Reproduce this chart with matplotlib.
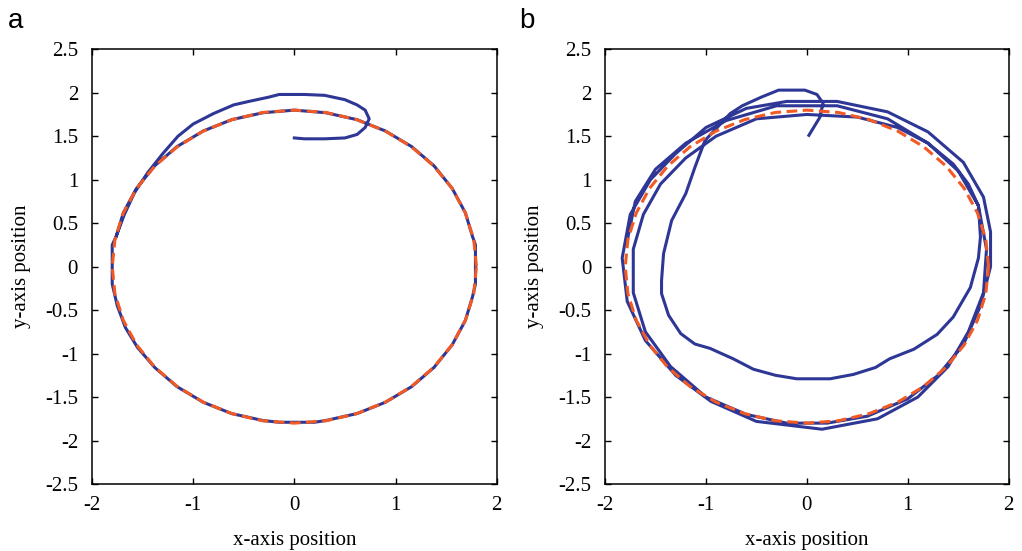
import matplotlib
matplotlib.use("Agg")
import matplotlib.pyplot as plt

# Reference circle (r ~ 1.8)
REF_X = [1.8, 1.773, 1.691, 1.559, 1.379, 1.157, 0.9, 0.616, 0.313, 0.0,
         -0.313, -0.616, -0.9, -1.157, -1.379, -1.559, -1.691, -1.773, -1.8,
         -1.773, -1.691, -1.559, -1.379, -1.157, -0.9, -0.616, -0.313, 0.0,
         0.313, 0.616, 0.9, 1.157, 1.379, 1.559, 1.691, 1.773, 1.8]
REF_Y = [0.0, 0.313, 0.616, 0.9, 1.157, 1.379, 1.559, 1.691, 1.773, 1.8,
         1.773, 1.691, 1.559, 1.379, 1.157, 0.9, 0.616, 0.313, 0.0,
         -0.313, -0.616, -0.9, -1.157, -1.379, -1.559, -1.691, -1.773, -1.8,
         -1.773, -1.691, -1.559, -1.379, -1.157, -0.9, -0.616, -0.313, 0.0]

# Panel a trajectory
A_X = [0.0, 0.1, 0.3, 0.5, 0.62, 0.7, 0.74, 0.7, 0.62, 0.5, 0.3, 0.1, -0.15,
       -0.25, -0.45, -0.6, -0.8, -1.0, -1.15, -1.3, -1.45, -1.58, -1.68, -1.76,
       -1.8, -1.8, -1.8, -1.75, -1.67, -1.55, -1.38, -1.16, -0.9, -0.62, -0.31,
       -0.15, 0.2, 0.31, 0.62, 0.9, 1.16, 1.38, 1.56, 1.69, 1.76, 1.79, 1.79,
       1.76, 1.69, 1.56, 1.38, 1.16, 0.9, 0.62, 0.31, 0.0, -0.31, -0.62, -0.9,
       -1.16, -1.38, -1.56, -1.69, -1.76]
A_Y = [1.48, 1.47, 1.47, 1.48, 1.52, 1.6, 1.7, 1.8, 1.86, 1.92, 1.97, 1.98, 1.98,
       1.95, 1.9, 1.86, 1.76, 1.64, 1.5, 1.3, 1.08, 0.85, 0.6, 0.35,
       0.25, 0.0, -0.2, -0.45, -0.7, -0.93, -1.16, -1.38, -1.56, -1.69, -1.77,
       -1.79, -1.79, -1.77, -1.69, -1.56, -1.38, -1.16, -0.9, -0.62, -0.35, -0.2, 0.25,
       0.35, 0.62, 0.9, 1.16, 1.38, 1.56, 1.69, 1.77, 1.8, 1.77, 1.69, 1.56,
       1.38, 1.16, 0.9, 0.62, 0.35]

# Panel b trajectory
B_X = [0.02, 0.13, 0.16, 0.1, -0.02, -0.28, -0.45, -0.64, -0.76, -1.01, -1.11,
       -1.2, -1.34, -1.42, -1.44, -1.44, -1.37, -1.25, -1.11, -0.96, -0.73,
       -0.53, -0.31, -0.1, 0.23, 0.46, 0.68, 0.82, 1.06, 1.29, 1.45, 1.62,
       1.7, 1.72, 1.7, 1.6, 1.45, 1.2, 0.9, 0.5, 0.0, -0.5, -0.9, -1.2, -1.45,
       -1.62, -1.72, -1.72, -1.6, -1.35, -1.0, -0.6, -0.2, 0.2, 0.6, 1.0, 1.3,
       1.55, 1.72, 1.82, 1.82, 1.75, 1.55, 1.2, 0.8, 0.3, -0.2, -0.6, -1.0,
       -1.3, -1.55, -1.75, -1.83, -1.78, -1.6, -1.3, -0.95, -0.5, 0.15, 0.7,
       1.1, 1.4, 1.6, 1.75, 1.78, 1.7, 1.5, 1.2, 0.8, 0.3, -0.3, -0.8, -1.2,
       -1.5, -1.7, -1.78]
B_Y = [1.51, 1.72, 1.88, 1.98, 2.03, 2.03, 1.95, 1.85, 1.76, 1.45, 1.14,
       0.84, 0.53, 0.15, -0.16, -0.31, -0.56, -0.77, -0.89, -0.94, -1.06,
       -1.18, -1.25, -1.29, -1.29, -1.24, -1.16, -1.06, -0.95, -0.78, -0.58, -0.24,
       0.1, 0.34, 0.7, 0.95, 1.18, 1.42, 1.6, 1.72, 1.75, 1.7, 1.5, 1.25, 0.95,
       0.6, 0.2, -0.3, -0.75, -1.15, -1.5, -1.7, -1.8, -1.8, -1.72, -1.52, -1.25,
       -0.9, -0.45, 0.0, 0.4, 0.8, 1.2, 1.55, 1.78, 1.9, 1.9, 1.82, 1.6,
       1.3, 1.0, 0.6, 0.1, -0.4, -0.85, -1.25, -1.55, -1.78, -1.87, -1.75,
       -1.5, -1.15, -0.75, -0.3, 0.2, 0.7, 1.1, 1.42, 1.7, 1.85, 1.85, 1.68, 1.42,
       1.12, 0.75, 0.3]

X_TICKS = [-2, -1, 0, 1, 2]
Y_TICKS = [-2.5, -2, -1.5, -1, -0.5, 0, 0.5, 1, 1.5, 2, 2.5]
Y_LABELS = ["-2.5", "-2", "-1.5", "-1", "-0.5", "0", "0.5", "1", "1.5", "2", "2.5"]

BLUE = "#2E3795"
ORANGE = "#F15A24"

plt.rcParams["font.family"] = "Liberation Serif"
plt.rcParams["font.size"] = 15
plt.rcParams["axes.unicode_minus"] = False

fig = plt.figure(figsize=(10.22, 5.51), dpi=100)
ax_a = fig.add_axes([0.090, 0.1216, 0.396, 0.789])
ax_b = fig.add_axes([0.592, 0.1216, 0.395, 0.789])

for ax, xs, ys, letter, lx in [(ax_a, A_X, A_Y, "a", 0.008), (ax_b, B_X, B_Y, "b", 0.508)]:
    ax.plot(xs, ys, color=BLUE, lw=2.2, solid_joinstyle="round")
    ax.plot(REF_X, REF_Y, color=ORANGE, lw=2.2, dashes=(3.5, 1.8))
    ax.set_xlim(-2, 2)
    ax.set_ylim(-2.5, 2.5)
    ax.set_xticks(X_TICKS)
    ax.set_yticks(Y_TICKS)
    ax.set_yticklabels(Y_LABELS)
    ax.tick_params(direction="in", top=True, right=True, length=4, width=1)
    ax.tick_params(axis="x", pad=9)
    ax.tick_params(axis="y", pad=10)
    for sp in ax.spines.values():
        sp.set_linewidth(1.1)
    ax.set_xlabel("x-axis position", labelpad=11)
    ax.set_ylabel("y-axis position", labelpad=10)
    fig.text(lx, 0.985, letter, family="Liberation Sans", fontsize=20, va="top")

fig.savefig("out.png", dpi=100)
